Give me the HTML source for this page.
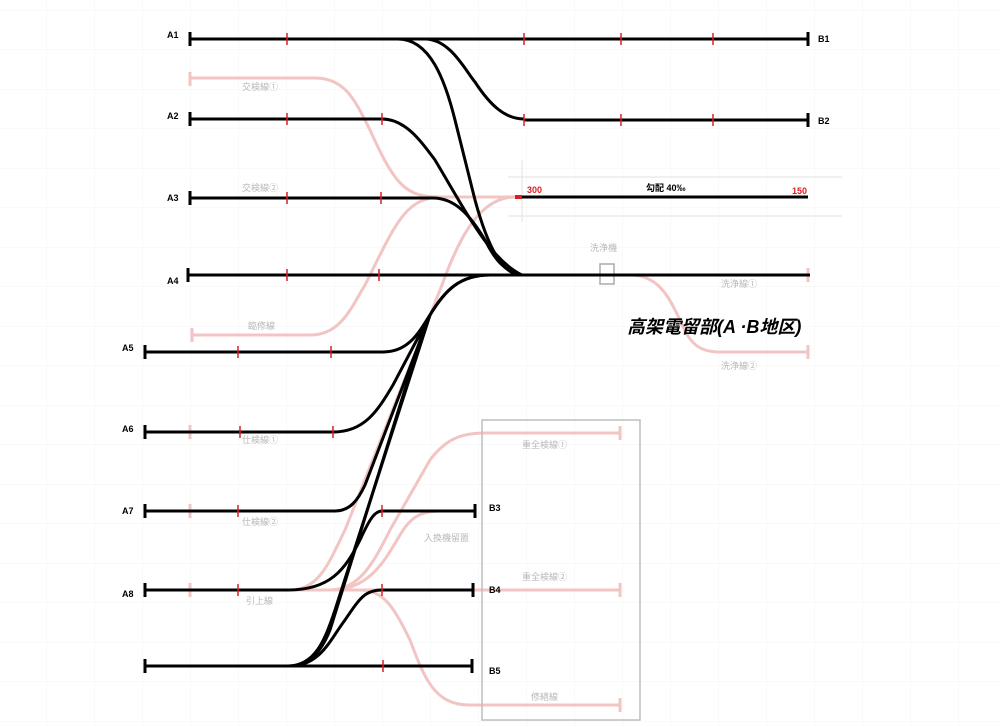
<!DOCTYPE html>
<html><head><meta charset="utf-8"><style>
html,body{margin:0;padding:0;background:#fff;}
svg{display:block;}
text{font-family:"Liberation Sans","Noto Sans CJK JP",sans-serif;}
</style></head><body>
<svg width="1000" height="727" viewBox="0 0 1000 727" xmlns="http://www.w3.org/2000/svg">
<defs>
<pattern id="g" x="190" y="10" width="48" height="39.5" patternUnits="userSpaceOnUse">
<path d="M0 0V40M0 0H48" stroke="#f3f3f3" stroke-width="1" fill="none"/>
</pattern>
</defs>
<rect width="1000" height="727" fill="url(#g)"/>
<g stroke="#e2e2e2" stroke-width="1">
<line x1="508" y1="177" x2="842" y2="177"/><line x1="508" y1="216" x2="842" y2="216"/>
<line x1="522" y1="160" x2="522" y2="222"/>
</g>
<!-- pink lines -->
<g stroke="#f2c4c4" stroke-width="3" fill="none">
<path d="M190,78 H315 C345,78 355,100 370,130 C395,185 405,197 440,197 H518"/>
<line x1="190" y1="72" x2="190" y2="86"/>
<path d="M192,335 H310 C340,335 350,310 365,285 C395,225 405,198 440,197"/>
<line x1="192" y1="328" x2="192" y2="342"/>
<path d="M290,590 C320,590 330,560 345,530 L440,290 C455,250 475,197 515,197"/>
<path d="M330,590 C360,590 375,560 390,530 L430,460 C445,440 460,433 485,433 H620"/>
<line x1="620" y1="426" x2="620" y2="440"/>
<path d="M330,590 C370,590 385,560 400,535 C410,518 420,511 440,511 H475"/>
<path d="M288,590 H620"/><line x1="620" y1="583" x2="620" y2="597"/>
<path d="M360,590 C385,590 395,610 410,640 C425,680 435,705 470,705 H620"/>
<line x1="620" y1="698" x2="620" y2="712"/>
<path d="M522,275 H808"/>
<path d="M630,275 C660,275 670,300 680,320 C690,345 700,352 720,352 H808"/>
<line x1="808" y1="345" x2="808" y2="359"/>
<line x1="808" y1="268" x2="808" y2="282"/>
<line x1="190" y1="425" x2="190" y2="439"/>
<line x1="190" y1="504" x2="190" y2="518"/>
<line x1="190" y1="583" x2="190" y2="597"/>
</g>
<rect x="482" y="420" width="158" height="300" fill="none" stroke="#bdbdbd" stroke-width="1.5"/>
<rect x="600" y="264" width="14" height="20" fill="none" stroke="#aaa" stroke-width="1.5"/>
<!-- black lines -->
<g stroke="#000" stroke-width="3" fill="none">
<path d="M190,39 H808"/><path d="M190,32V46M808,32V46"/>
<path d="M524,120 H808"/><path d="M808,113V127"/>
<path d="M190,119 H383"/><path d="M190,112V126"/>
<path d="M190,198 H433"/><path d="M190,191V205"/>
<path d="M188,275 H810"/><path d="M188,268V282"/>
<path d="M522,197 H808"/>
<path d="M145,352 H383"/><path d="M145,345V359"/>
<path d="M145,432 H333"/><path d="M145,425V439"/>
<path d="M145,511 H335"/><path d="M145,504V518"/>
<path d="M145,590 H288"/><path d="M145,583V597"/>
<path d="M382,511 H475"/><path d="M475,504V518"/>
<path d="M382,590 H473"/><path d="M473,583V597"/>
<path d="M145,666 H472"/><path d="M145,659V673M472,659V673"/>
<path d="M398,39 C430,39 445,80 455,120 L475,200 C490,255 505,275 522,275"/>
<path d="M425,39 C450,39 465,70 475,82 C490,105 505,119 524,119"/>
<path d="M382,119 C405,119 420,140 435,160 C465,210 490,260 522,275"/>
<path d="M433,198 C455,198 470,215 485,240 C495,260 505,272 522,275"/>
<path d="M383,352 C410,352 420,330 430,315 C445,290 460,275 490,275"/>
<path d="M333,432 C365,432 378,410 393,385 L430,315 C445,290 460,275 490,275"/>
<path d="M335,511 C350,511 358,500 365,485 L430,315"/>
<path d="M288,590 C330,590 345,570 360,540 C370,518 375,511 382,511"/>
<path d="M288,666 C315,666 325,640 335,610 L430,315"/>
<path d="M290,666 C310,666 322,650 330,630 L425,325"/>
<path d="M290,666 C320,666 330,640 345,620 C360,598 365,590 382,590"/>
</g>
<path d="M515,197 H522" stroke="#e01b24" stroke-width="4"/>
<!-- red ticks -->
<g stroke="#e01b24" stroke-width="1.5">
<path d="M287,33V45M524,33V45M621,33V45M713,33V45"/>
<path d="M524,114V126M621,114V126M713,114V126"/>
<path d="M287,113V125M382,113V125"/>
<path d="M287,192V204M381,192V204"/>
<path d="M287,269V281M379,269V281"/>
<path d="M238,346V358M331,346V358"/>
<path d="M240,426V438M333,426V438"/>
<path d="M238,505V517"/>
<path d="M238,584V596"/>
<path d="M382,505V517M382,584V596M383,660V672"/>
</g>
<!-- labels -->
<g font-size="9" font-weight="bold" fill="#000">
<text x="167" y="38">A1</text><text x="167" y="119">A2</text><text x="167" y="201">A3</text><text x="167" y="284">A4</text>
<text x="122" y="351">A5</text><text x="122" y="432">A6</text><text x="122" y="514">A7</text><text x="122" y="597">A8</text>
<text x="818" y="42">B1</text><text x="818" y="124">B2</text>
<text x="489" y="511">B3</text><text x="489" y="593">B4</text><text x="489" y="674">B5</text>
<text x="646" y="191">勾配 40‰</text>
</g>
<g font-size="9" font-weight="bold" fill="#e01b24">
<text x="527" y="193">300</text><text x="792" y="194">150</text>
</g>
<g font-size="9" fill="#b8b8b8">
<text x="242" y="90">交検線①</text>
<text x="242" y="191">交検線②</text>
<text x="248" y="329">臨修線</text>
<text x="242" y="443">仕検線①</text>
<text x="242" y="525">仕検線②</text>
<text x="246" y="604">引上線</text>
<text x="424" y="541">入換機留置</text>
<text x="522" y="448">重全検線①</text>
<text x="522" y="580">重全検線②</text>
<text x="531" y="700">修繕線</text>
<text x="590" y="251">洗浄機</text>
<text x="721" y="287">洗浄線①</text>
<text x="721" y="369">洗浄線②</text>
</g>
<text x="627" y="333" font-size="18" font-style="italic" font-weight="bold" fill="#000">高架電留部(A ·B地区)</text>
</svg>
</body></html>
